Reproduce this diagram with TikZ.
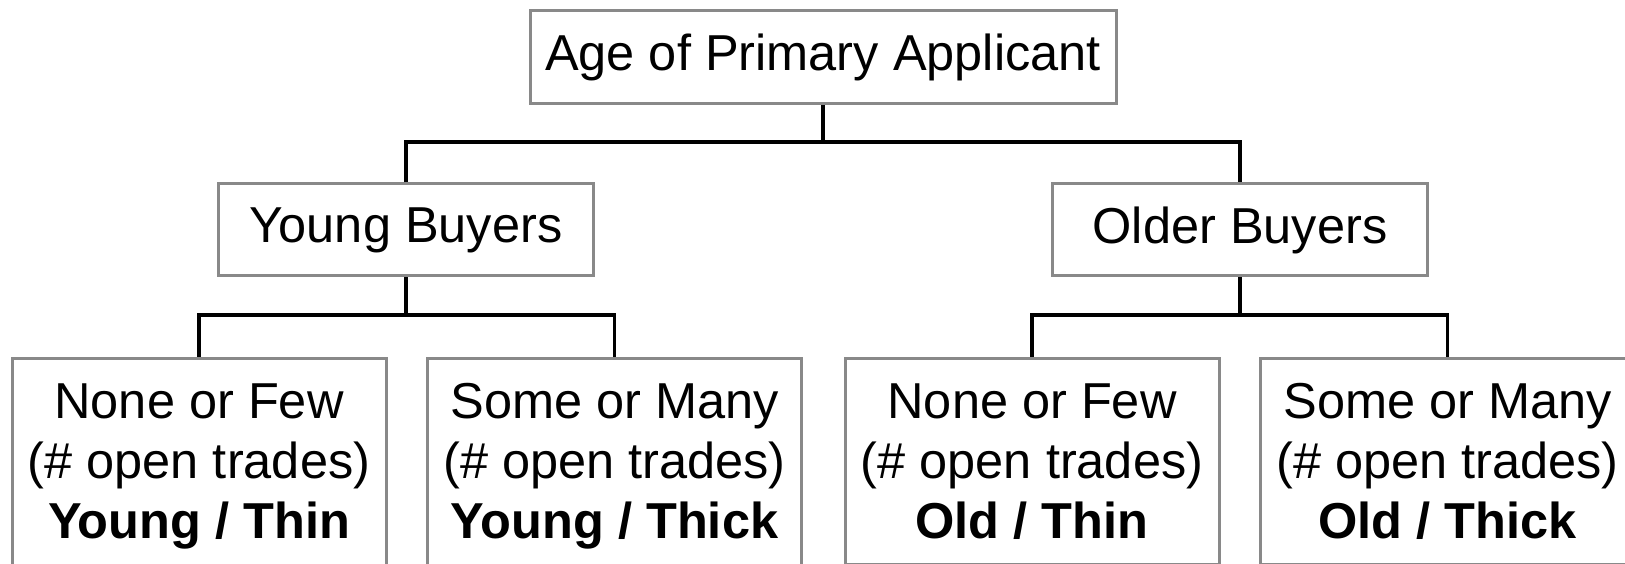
\documentclass[tikz,border=0pt]{standalone}
\usepackage{fontspec}
\setmainfont{Liberation Sans}
\definecolor{boxgray}{RGB}{137,137,137}
\begin{document}
\begin{tikzpicture}[x=1pt,y=1pt,
  box/.style={draw=boxgray, line width=3pt, fill=white, font=\fontsize{50.5}{60}\selectfont, align=center},
  midbox/.style={box, minimum width=375pt, minimum height=92pt, inner sep=0pt},
  leaf/.style={box, anchor=north, minimum width=374pt, inner xsep=0pt, inner ysep=25pt},
  conn/.style={draw=black, line width=3.3pt}]
\useasboundingbox (0,0) rectangle (1625,564);
\node[box, minimum width=586pt, minimum height=93pt, inner sep=0pt] (root) at (823,507) {Age of Primary Applicant};
\node[midbox] (young) at (406,334) {Young Buyers};
\node[midbox] (older) at (1240,334) {Older Buyers};
\node[leaf] (yt) at (199,207) {None or Few\\(\# open trades)\\\textbf{Young / Thin}};
\node[leaf] (yk) at (614.5,207) {Some or Many\\(\# open trades)\\\textbf{Young / Thick}};
\node[leaf] (ot) at (1032,207) {None or Few\\(\# open trades)\\\textbf{Old / Thin}};
\node[leaf] (ok) at (1447.5,207) {Some or Many\\(\# open trades)\\\textbf{Old / Thick}};
\coordinate (j1) at (823,422);
\coordinate (j2) at (406,249);
\coordinate (j3) at (1240,249);
\draw[conn] (root.south) -- (j1);
\draw[conn] (young.north) |- (j1) -| (older.north);
\draw[conn] (young.south) -- (j2);
\draw[conn] (yt.north) |- (j2) -| (yk.north);
\draw[conn] (older.south) -- (j3);
\draw[conn] (ot.north) |- (j3) -| (ok.north);
\end{tikzpicture}
\end{document}
